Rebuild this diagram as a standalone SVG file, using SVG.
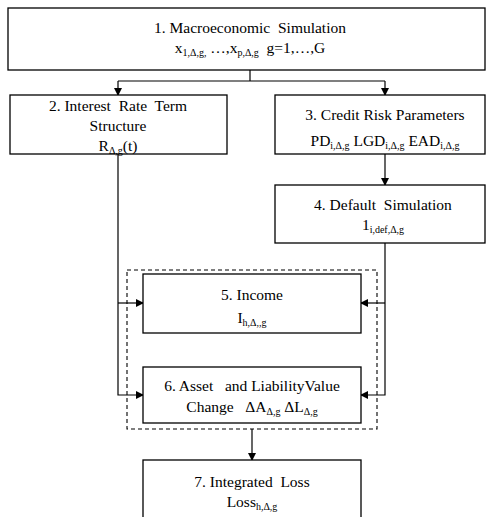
<svg xmlns="http://www.w3.org/2000/svg" width="487" height="517" viewBox="0 0 487 517">
<defs>
<style>
.box{fill:#fff;stroke:#000;stroke-width:1.3}
.t{font-family:"Liberation Serif","Times New Roman",serif;font-size:15.5px;fill:#000;text-anchor:middle;white-space:pre}
.s{font-size:10px}
.c{fill:none;stroke:#000;stroke-width:1.2}
.d{fill:none;stroke:#000;stroke-width:1.1;stroke-dasharray:4 3}
</style>
<marker id="a" markerWidth="8" markerHeight="8" refX="7" refY="4" orient="auto" markerUnits="userSpaceOnUse">
<path d="M0,0 L8,4 L0,8 Z" fill="#000"/>
</marker>
</defs>
<rect width="487" height="517" fill="#fff"/>
<g id="connectors">
<path class="c" d="M250,70 V81 M118,81 H385"/>
<path class="c" d="M118,81 V95" marker-end="url(#a)"/>
<path class="c" d="M385,81 V95" marker-end="url(#a)"/>
<path class="c" d="M385,154 V185" marker-end="url(#a)"/>
<path class="c" d="M118,154 V395 H143" marker-end="url(#a)"/>
<path class="c" d="M118,303 H143" marker-end="url(#a)"/>
<path class="c" d="M385,243 V395 H361" marker-end="url(#a)"/>
<path class="c" d="M385,303 H361" marker-end="url(#a)"/>
<path class="c" d="M252,429 V460" marker-end="url(#a)"/>
</g>
<rect id="group56" class="d" x="127" y="270" width="250" height="159"/>
<g id="n1">
<rect class="box" x="8" y="8" width="477" height="62"/>
<text class="t" x="250" y="33" xml:space="preserve">1. Macroeconomic  Simulation</text>
<text class="t" x="250" y="53" xml:space="preserve">x<tspan class="s" dy="3">1,Δ,g,</tspan><tspan dy="-3"> …,x</tspan><tspan class="s" dy="3">p,Δ,g</tspan><tspan dy="-3">  g=1,…,G</tspan></text>
</g>
<g id="n2">
<rect class="box" x="10" y="95" width="217" height="59"/>
<text class="t" x="118" y="111" xml:space="preserve">2. Interest  Rate  Term</text>
<text class="t" x="118" y="131">Structure</text>
<text class="t" x="118" y="151">R<tspan class="s" dy="3">Δ,g</tspan><tspan dy="-3">(t)</tspan></text>
</g>
<g id="n3">
<rect class="box" x="275" y="95" width="210" height="59"/>
<text class="t" x="385" y="120">3. Credit Risk Parameters</text>
<text class="t" x="385" y="146">PD<tspan class="s" dy="3">i,Δ,g</tspan><tspan dy="-3"> LGD</tspan><tspan class="s" dy="3">i,Δ,g</tspan><tspan dy="-3"> EAD</tspan><tspan class="s" dy="3">i,Δ,g</tspan></text>
</g>
<g id="n4">
<rect class="box" x="275" y="185" width="210" height="58"/>
<text class="t" x="383" y="210" xml:space="preserve">4. Default  Simulation</text>
<text class="t" x="383" y="230">1<tspan class="s" dy="3">i,def,Δ,g</tspan></text>
</g>
<g id="n5">
<rect class="box" x="143" y="274" width="218" height="59"/>
<text class="t" x="252" y="300">5. Income</text>
<text class="t" x="252" y="323">I<tspan class="s" dy="3">h,Δ,,g</tspan></text>
</g>
<g id="n6">
<rect class="box" x="143" y="367" width="218" height="56"/>
<text class="t" x="252" y="391" xml:space="preserve">6. Asset   and LiabilityValue</text>
<text class="t" x="252" y="412" xml:space="preserve">Change   ΔA<tspan class="s" dy="3">Δ,g</tspan><tspan dy="-3"> ΔL</tspan><tspan class="s" dy="3">Δ,g</tspan></text>
</g>
<g id="n7">
<rect class="box" x="143" y="460" width="218" height="70"/>
<text class="t" x="252" y="487" xml:space="preserve">7. Integrated  Loss</text>
<text class="t" x="252" y="507">Loss<tspan class="s" dy="3">h,Δ,g</tspan></text>
</g>
</svg>
